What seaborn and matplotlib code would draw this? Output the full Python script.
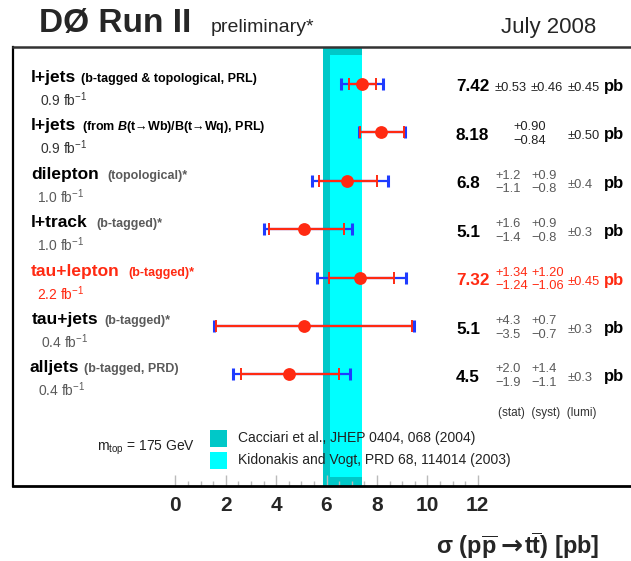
import numpy as np
import pandas as pd
import matplotlib
matplotlib.use("Agg")
import matplotlib.pyplot as plt
import seaborn as sns
from matplotlib.transforms import blended_transform_factory
from matplotlib.patches import Rectangle

# ---------------- data ----------------
channels = ["l+jets", "l+jets", "dilepton", "l+track", "tau+lepton", "tau+jets", "alljets"]
details = ["(b-tagged & topological, PRL)",
           r"(from $\mathit{B}$(t→Wb)/B(t→Wq), PRL)",
           "(topological)*", "(b-tagged)*", "(b-tagged)*", "(b-tagged)*",
           "(b-tagged, PRD)"]
lumis = ["0.9", "0.9", "1.0", "1.0", "2.2", "0.4", "0.4"]
sigma = [7.42, 8.18, 6.8, 5.1, 7.32, 5.1, 4.5]
stat_low = [6.89, 7.34, 5.70, 3.70, 6.08, 1.60, 2.60]
stat_high = [7.95, 9.08, 8.00, 6.70, 8.66, 9.40, 6.50]
tot_low = [6.57, 7.30, 5.42, 3.52, 5.64, 1.52, 2.28]
tot_high = [8.25, 9.12, 8.45, 7.00, 9.16, 9.47, 6.95]
val_txt = ["7.42", "8.18", "6.8", "5.1", "7.32", "5.1", "4.5"]
stat_up = ["±0.53", "+0.90", "+1.2", "+1.6", "+1.34", "+4.3", "+2.0"]
stat_dn = [None, "−0.84", "−1.1", "−1.4", "−1.24", "−3.5", "−1.9"]
syst_up = ["±0.46", None, "+0.9", "+0.9", "+1.20", "+0.7", "+1.4"]
syst_dn = [None, None, "−0.8", "−0.8", "−1.06", "−0.7", "−1.1"]
lumi_err = ["±0.45", "±0.50", "±0.4", "±0.3", "±0.45", "±0.3", "±0.3"]
highlight = [False, False, False, False, True, False, False]
cacciari = (5.85, 7.40)
kidonakis = (6.14, 7.40)
xticks = [0, 2, 4, 6, 8, 10, 12]

# ---------------- style ----------------
sns.set_theme(style="white")
plt.rcParams["font.family"] = ["Liberation Sans", "DejaVu Sans"]
plt.rcParams["mathtext.default"] = "regular"
plt.rcParams["mathtext.fontset"] = "custom"
plt.rcParams["mathtext.it"] = "Liberation Sans:italic:bold"
plt.rcParams["mathtext.rm"] = "Liberation Sans"

RED = "#ff2a12"
BLUE = "#1f3bff"
DARKC = "#00c8c8"
CYAN = "#00ffff"
GREY = "#5a5a5a"

W, H = 631, 561
fig = plt.figure(figsize=(W / 100, H / 100), dpi=100)
ax = fig.add_axes([12.7 / W, (H - 486) / H, (640 - 12.7) / W, (486 - 47) / H])

rows = np.arange(len(sigma))
df = pd.DataFrame({"sigma": sigma, "row": rows})

# theory bands
ax.axvspan(*cacciari, color=DARKC, lw=0, zorder=0)
ax.axvspan(*kidonakis, ymin=(486 - 477) / 439, ymax=(486 - 55) / 439,
           color=CYAN, lw=0, zorder=0.5)

s = np.array(sigma)
ax.errorbar(s, rows, xerr=[s - np.array(tot_low), np.array(tot_high) - s],
            fmt="none", ecolor=BLUE, elinewidth=1.6, capsize=4.4, capthick=2.2, zorder=2)
ax.errorbar(s, rows, xerr=[s - np.array(stat_low), np.array(stat_high) - s],
            fmt="none", ecolor=RED, elinewidth=1.6, capsize=4.4, capthick=1.4, zorder=3)
sns.scatterplot(data=df, x="sigma", y="row", color=RED, s=85, linewidth=0,
                zorder=5, ax=ax, legend=False)

# axes ranges
px_per_unit = 25.2
x0px = 175.3
ax.set_xlim((12.7 - x0px) / px_per_unit, (640 - x0px) / px_per_unit)
row_px = 48.4
ax.set_ylim((486 - 84) / row_px, (47 - 84) / row_px)
ax.set_xlabel("")
ax.set_ylabel("")
ax.set_yticks([])
ax.set_xticks(xticks)
ax.set_xticklabels([str(t) for t in xticks], fontsize=15, fontweight="bold")
ax.set_xticks([v for v in np.arange(0.5, 12, 0.5) if v % 2 != 0], minor=True)
ax.tick_params(axis="x", which="major", direction="in", length=8, width=1,
               color="#bbbbbb", pad=7, bottom=True)
ax.tick_params(axis="x", which="minor", direction="in", length=3.8, width=1,
               color="#bbbbbb", bottom=True)
for side, lw, c in [("left", 1.6, "black"), ("bottom", 2.0, "black"),
                    ("top", 1.8, "#333333")]:
    ax.spines[side].set_linewidth(lw)
    ax.spines[side].set_color(c)
    ax.spines[side].set_visible(True)
ax.spines["right"].set_visible(False)

T = blended_transform_factory(fig.transFigure, ax.transData)
def fx(p):
    return p / W
d = 1 / row_px  # one pixel in row units

sub_x = [81, 82, 107, 96, 128, 104, 84]
main_x = [31, 31, 31, 31, 31, 32, 29]
lumi_x = [40, 40, 37, 37, 37, 41, 38]
for i in rows:
    red = highlight[i]
    cmain = RED if red else "black"
    csub = RED if red else ("black" if i < 2 else GREY)
    clumi = RED if red else ("#333333" if i < 2 else GREY)
    ax.text(fx(main_x[i]), i - 2 * d, channels[i], transform=T, fontsize=12.5,
            fontweight="bold", color=cmain, va="baseline", ha="left")
    ax.text(fx(sub_x[i]), i - 2 * d, details[i], transform=T, fontsize=9,
            fontweight="bold", color=csub, va="baseline", ha="left")
    ax.text(fx(lumi_x[i]), i + 22 * d, lumis[i] + r" fb$^{-1}$", transform=T,
            fontsize=10, color=clumi, va="baseline", ha="left")

    cval = RED if red else "black"
    cerr = RED if red else ("#222222" if i < 2 else GREY)
    ax.text(fx(456), i + 7.5 * d, val_txt[i], transform=T, fontsize=12.3,
            fontweight="bold", color=cval, va="baseline", ha="left")
    sx = 513 if i == 1 else 495
    if stat_dn[i] is None:
        ax.text(fx(sx), i + 7 * d, stat_up[i], transform=T, fontsize=9.3,
                color=cerr, va="baseline")
    else:
        ax.text(fx(sx), i - 2 * d, stat_up[i], transform=T, fontsize=9.3,
                color=cerr, va="baseline")
        ax.text(fx(sx), i + 11.5 * d, stat_dn[i], transform=T, fontsize=9.3,
                color=cerr, va="baseline")
    if syst_up[i] is not None:
        if syst_dn[i] is None:
            ax.text(fx(531), i + 7 * d, syst_up[i], transform=T, fontsize=9.3,
                    color=cerr, va="baseline")
        else:
            ax.text(fx(531), i - 2 * d, syst_up[i], transform=T, fontsize=9.3,
                    color=cerr, va="baseline")
            ax.text(fx(531), i + 11.5 * d, syst_dn[i], transform=T, fontsize=9.3,
                    color=cerr, va="baseline")
    ax.text(fx(568), i + 7 * d, lumi_err[i], transform=T, fontsize=9.3,
            color=cerr, va="baseline")
    ax.text(fx(604), i + 7 * d, "pb", transform=T, fontsize=12, fontweight="bold",
            color=cval, va="baseline")

ax.text(fx(498), (413 - 84) * d, "(stat)  (syst)  (lumi)", transform=T,
        fontsize=8.5, color="#333333", va="center")

# legend
def fy(p):
    return 1 - p / H
fig.patches.append(Rectangle((fx(210), fy(447)), 16.7 / W, 16.7 / H,
                             transform=fig.transFigure, color=DARKC, lw=0))
fig.patches.append(Rectangle((fx(210), fy(468.5)), 16.7 / W, 16.7 / H,
                             transform=fig.transFigure, color=CYAN, lw=0))
fig.text(fx(238), fy(438), "Cacciari et al., JHEP 0404, 068 (2004)", fontsize=10,
         va="center", color="#222222")
fig.text(fx(238), fy(460), "Kidonakis and Vogt, PRD 68, 114014 (2003)", fontsize=10,
         va="center", color="#222222")
fig.text(fx(97), fy(448), r"m$_{top}$ = 175 GeV", fontsize=10, va="center",
         color="#222222")

# titles
fig.text(fx(39), fy(32), "DØ Run II", fontsize=24, fontweight="bold", va="baseline")
fig.text(fx(211), fy(32), "preliminary*", fontsize=14, va="baseline")
fig.text(fx(501), fy(33), "July 2008", fontsize=16, va="baseline")

# axis title, built from three pieces so the arrow can use a fuller glyph
t3 = fig.text(fx(599), fy(554), r"t$\overline{t}$) [pb]", fontsize=17,
              fontweight="bold", ha="right", va="baseline")
arrow = ax.annotate("→", xy=(0, 0), xycoords=t3, xytext=(-0.5, 1.0),
                    textcoords="offset points", ha="right", va="bottom",
                    fontsize=19, fontweight="bold", family=["DejaVu Sans"],
                    annotation_clip=False)
first = ax.annotate(r"σ (p$\overline{p}$", xy=(0, 0), xycoords=t3,
                    xytext=(-18.5, 0), textcoords="offset points", ha="right",
                    va="bottom", fontsize=17, fontweight="bold",
                    annotation_clip=False)

fig.savefig("out.png", dpi=100)
